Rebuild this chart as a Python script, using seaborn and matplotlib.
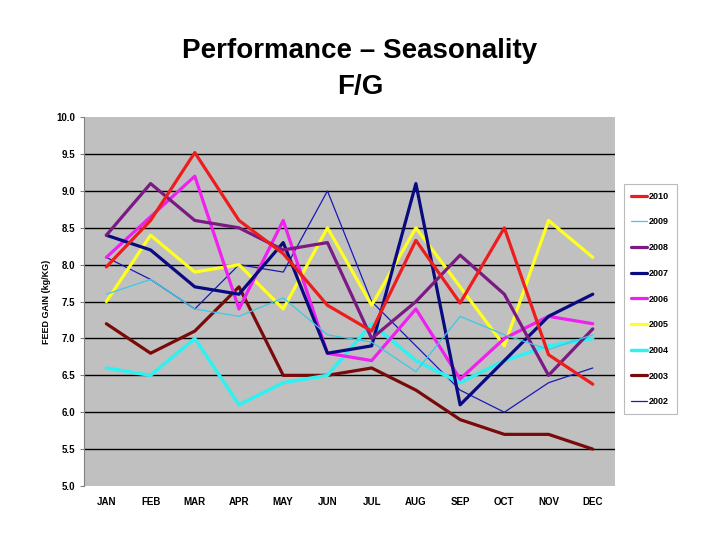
import pandas as pd
import matplotlib
matplotlib.use("Agg")
import matplotlib.pyplot as plt
import seaborn as sns

months = ["JAN", "FEB", "MAR", "APR", "MAY", "JUN", "JUL", "AUG", "SEP", "OCT", "NOV", "DEC"]
years = ["2010", "2009", "2008", "2007", "2006", "2005", "2004", "2003", "2002"]

fg_2010 = [7.97, 8.6, 9.52, 8.6, 8.15, 7.45, 7.1, 8.33, 7.48, 8.5, 6.78, 6.38]
fg_2009 = [7.6, 7.8, 7.4, 7.3, 7.55, 7.05, 6.95, 6.55, 7.3, 7.05, 6.85, 7.05]
fg_2008 = [8.4, 9.1, 8.6, 8.5, 8.2, 8.3, 7.0, 7.5, 8.13, 7.6, 6.5, 7.13]
fg_2007 = [8.4, 8.2, 7.7, 7.6, 8.3, 6.8, 6.9, 9.1, 6.1, 6.7, 7.3, 7.6]
fg_2006 = [8.1, 8.65, 9.2, 7.4, 8.6, 6.8, 6.7, 7.4, 6.45, 7.0, 7.3, 7.2]
fg_2005 = [7.5, 8.4, 7.9, 8.0, 7.4, 8.5, 7.45, 8.5, 7.7, 6.9, 8.6, 8.1]
fg_2004 = [6.6, 6.5, 7.0, 6.1, 6.4, 6.5, 7.2, 6.7, 6.4, 6.7, 6.9, 7.0]
fg_2003 = [7.2, 6.8, 7.1, 7.7, 6.5, 6.5, 6.6, 6.3, 5.9, 5.7, 5.7, 5.5]
fg_2002 = [8.1, 7.8, 7.4, 8.0, 7.9, 9.0, 7.5, 6.9, 6.3, 6.0, 6.4, 6.6]

series = [fg_2010, fg_2009, fg_2008, fg_2007, fg_2006, fg_2005, fg_2004, fg_2003, fg_2002]
colors = ["#EE1C1C", "#3CC8E6", "#7A1A82", "#0A0A80", "#F020F0",
          "#FFFF20", "#30F0F0", "#7A0A0A", "#1A1AB4"]
widths = [2.3, 0.9, 2.3, 2.3, 2.3, 2.3, 2.5, 2.3, 0.9]

rows = []
for yr, vals in zip(years, series):
    for m, v in zip(months, vals):
        rows.append({"Month": m, "FG": v, "Year": yr})
df = pd.DataFrame(rows)
df["Month"] = pd.Categorical(df["Month"], categories=months, ordered=True)
df["x"] = df["Month"].cat.codes

sns.set_style("white")
plt.rcParams["font.family"] = ["Liberation Sans", "DejaVu Sans"]
plt.rcParams["text.color"] = "black"
plt.rcParams["xtick.color"] = "black"
plt.rcParams["ytick.color"] = "black"
plt.rcParams["axes.labelcolor"] = "black"

fig = plt.figure(figsize=(7.2, 5.4), dpi=100)
ax = fig.add_axes([0.117, 0.1, 0.737, 0.683])
ax.set_facecolor("#C0C0C0")

# draw oldest first so the recent years sit on top
for yr, c, w in reversed(list(zip(years, colors, widths))):
    sub = df[df["Year"] == yr]
    sns.lineplot(data=sub, x="x", y="FG", color=c, linewidth=w, label=yr, ax=ax)

ax.set_xlim(-0.5, 11.5)
ax.set_ylim(5.0, 10.0)
ax.set_yticks([5.0, 5.5, 6.0, 6.5, 7.0, 7.5, 8.0, 8.5, 9.0, 9.5, 10.0])
ax.set_yticklabels([f"{v:.1f}" for v in ax.get_yticks()], fontsize=7, fontweight="bold")
ax.set_xticks(range(len(months)))
ax.set_xticklabels(months, fontsize=7, fontweight="bold")
ax.tick_params(axis="x", length=0, pad=8)
ax.tick_params(axis="y", length=3, left=True, color="#808080")
for v in [5.5, 6.0, 6.5, 7.0, 7.5, 8.0, 8.5, 9.0, 9.5]:
    ax.axhline(v, color="black", linewidth=1, zorder=0.5)
ax.set_xlabel("")
ax.set_ylabel("FEED GAIN (kg/KG)", fontsize=6.5, fontweight="bold")
for s in ["top", "right", "bottom"]:
    ax.spines[s].set_visible(False)
ax.spines["left"].set_color("#808080")

handles, labels = ax.get_legend_handles_labels()
leg = ax.legend(handles[::-1], labels[::-1], loc="center left", bbox_to_anchor=(1.012, 0.507),
                frameon=True, fancybox=False, handlelength=1.8, handletextpad=0.2,
                labelspacing=1.85, prop={"size": 6.5, "weight": "bold"}, borderpad=0.8,
                borderaxespad=0.3)
leg.get_frame().set_edgecolor("#AAAAAA")
leg.get_frame().set_linewidth(0.8)

fig.text(0.5, 0.905, "Performance \u2013 Seasonality", ha="center", va="center",
         fontsize=20, fontweight="bold", color="black")
fig.text(0.5, 0.839, "F/G", ha="center", va="center", fontsize=20, fontweight="bold",
         color="black")

fig.savefig("out.png", dpi=100)
